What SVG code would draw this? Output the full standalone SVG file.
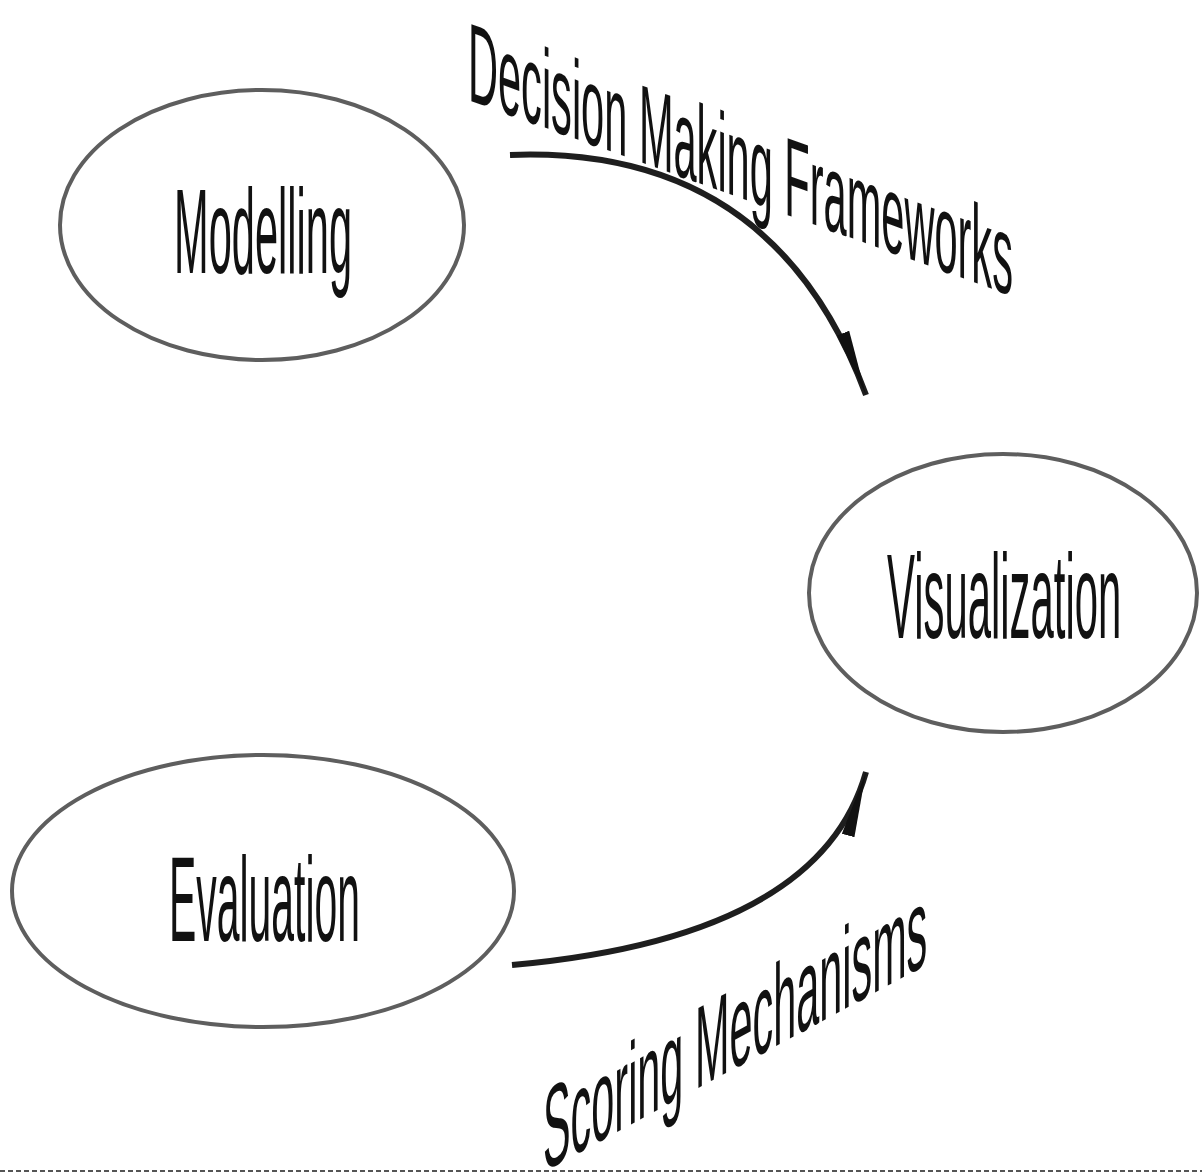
<svg xmlns="http://www.w3.org/2000/svg" width="1202" height="1174" viewBox="0 0 1202 1174">
<style>
.node ellipse{fill:none;stroke:#5e5e5e;stroke-width:4}
.lbl{font-family:"Liberation Sans",Arial,sans-serif;font-size:120px;fill:#111}
.elbl{font-family:"Liberation Sans",Arial,sans-serif;fill:#111}
.conn{fill:none;stroke:#1e1e1e;stroke-width:6}
</style>
<defs>
<marker id="ah" markerUnits="userSpaceOnUse" markerWidth="80" markerHeight="30" refX="66" refY="8" orient="auto" viewBox="0 0 80 16">
<path d="M0,1.5 L66,8 L0,14.5 Z" fill="#111"/>
</marker>
</defs>
<rect width="1202" height="1174" fill="#fff"/>
<g id="node-modelling" class="node">
<ellipse cx="262" cy="225" rx="202" ry="135"/>
<text class="lbl" transform="translate(174,273) scale(0.3466,1)">Modelling</text>
</g>
<g id="node-visualization" class="node">
<ellipse cx="1003" cy="593" rx="194" ry="139"/>
<text class="lbl" transform="translate(887,638) scale(0.349,1)">Visualization</text>
</g>
<g id="node-evaluation" class="node">
<ellipse cx="263" cy="891" rx="251" ry="136"/>
<text class="lbl" transform="translate(169,941) scale(0.341,1)">Evaluation</text>
</g>
<g id="connectors">
<path class="conn" d="M510,155 C640,150 790,190 866,395" marker-end="url(#ah)"/>
<path class="conn" d="M512,965 C680,950 830,900 866,772" marker-end="url(#ah)"/>
<text class="elbl" font-size="112" transform="translate(468,100) skewY(19.8) scale(0.371,1)">Decision Making Frameworks</text>
<text class="elbl" font-size="116" transform="translate(543,1172) skewY(-28.4) scale(0.357,1)">Scoring Mechanisms</text>
</g>
<line x1="0" y1="1171" x2="1202" y2="1171" stroke="#555" stroke-width="2" stroke-dasharray="5,3"/>
</svg>
